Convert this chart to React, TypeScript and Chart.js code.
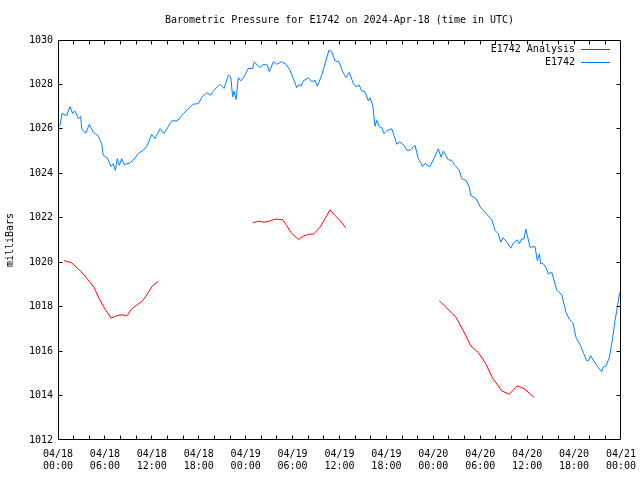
import React, { useEffect, useRef } from "react";
import { Chart, registerables } from "chart.js";

Chart.register(...registerables);

const FONT = "'DejaVu Sans Mono', monospace";

const titleText = "Barometric Pressure for E1742 on 2024-Apr-18 (time in UTC)";
const yAxisTitle = "milliBars";
const analysisLabel = "E1742 Analysis";
const observedLabel = "E1742";

// x axis: hours since 2024-04-18 00:00 UTC
const xTickDates = ["04/18", "04/18", "04/18", "04/18", "04/19", "04/19", "04/19", "04/19", "04/20", "04/20", "04/20", "04/20", "04/21"];
const xTickTimes = ["00:00", "06:00", "12:00", "18:00", "00:00", "06:00", "12:00", "18:00", "00:00", "06:00", "12:00", "18:00", "00:00"];

const observedHours = [
  0.13, 0.26, 0.51, 1.11, 1.53, 1.88, 2.17, 2.6, 2.9, 3.03, 3.54, 4.0, 4.51, 5.15, 5.59, 5.79, 6.31, 6.78, 7.07, 7.33,
  7.58, 7.84, 8.15, 8.44, 9.21, 9.85, 10.27, 10.91, 11.42, 11.98, 12.41, 13.05, 13.56, 14.54, 15.26, 16.03, 17.3, 17.94,
  18.51, 19.02, 19.53, 19.86, 20.72, 21.23, 21.78, 22.09, 22.34, 22.51, 22.77, 23.06, 23.37, 23.79, 24.34, 24.9, 25.07,
  25.83, 26.35, 26.77, 27.02, 27.54, 27.97, 28.61, 29.16, 29.67, 30.09, 30.53, 30.86, 31.08, 31.37, 32.01, 32.45, 32.87,
  33.16, 33.73, 34.28, 34.66, 35.0, 35.43, 35.94, 36.41, 36.83, 37.26, 37.77, 38.11, 38.53, 38.84, 39.26, 39.68, 39.9,
  40.25, 40.54, 40.76, 41.09, 41.4, 41.69, 42.04, 42.68, 42.97, 43.32, 43.74, 44.25, 44.6, 45.02, 45.66, 46.08, 46.64,
  46.94, 47.23, 47.58, 48.21, 48.64, 48.98, 49.28, 49.92, 50.35, 50.77, 51.32, 51.63, 52.18, 52.6, 52.78, 53.46, 54.06,
  54.61, 55.47, 55.89, 56.31, 56.62, 56.87, 57.46, 57.9, 58.23, 58.74, 59.0, 59.3, 59.6, 59.82, 60.02, 60.37, 61.0,
  61.3, 61.56, 61.73, 61.99, 62.41, 62.71, 63.14, 63.78, 64.42, 64.97, 65.39, 65.83, 66.25, 66.76, 67.18, 67.62, 67.82,
  68.13, 68.55, 69.1, 69.53, 69.74, 70.08, 70.51, 70.94, 71.24, 71.53, 71.79, 72.0,
];
const observedPressure = [
  1026.1, 1026.16, 1026.69, 1026.6, 1027.0, 1026.7, 1026.8, 1026.46, 1026.57, 1026.0, 1025.8, 1026.2, 1025.86, 1025.67,
  1025.34, 1024.81, 1024.69, 1024.31, 1024.43, 1024.13, 1024.66, 1024.36, 1024.66, 1024.4, 1024.46, 1024.69, 1024.89,
  1025.04, 1025.26, 1025.76, 1025.56, 1026.01, 1025.79, 1026.36, 1026.36, 1026.69, 1027.11, 1027.14, 1027.47, 1027.62,
  1027.52, 1027.71, 1028.01, 1027.82, 1028.42, 1028.34, 1027.44, 1027.7, 1027.32, 1028.31, 1028.16, 1028.34, 1028.72,
  1028.72, 1029.02, 1028.76, 1028.91, 1028.87, 1028.57, 1029.02, 1028.91, 1029.02, 1028.91, 1028.64, 1028.27, 1027.86,
  1028.01, 1027.92, 1028.16, 1028.3, 1028.12, 1028.19, 1027.92, 1028.42, 1029.09, 1029.55, 1029.47, 1029.06, 1029.02,
  1028.57, 1028.31, 1028.54, 1028.04, 1027.89, 1027.97, 1027.71, 1027.67, 1027.26, 1027.4, 1027.07, 1026.12, 1026.39,
  1026.09, 1026.06, 1025.79, 1025.91, 1026.01, 1025.71, 1025.31, 1025.41, 1025.26, 1025.04, 1025.04, 1025.26, 1024.66,
  1024.31, 1024.46, 1024.36, 1024.31, 1024.77, 1025.11, 1024.73, 1025.0, 1024.61, 1024.58, 1024.36, 1024.13, 1023.76,
  1023.68, 1023.38, 1023.0, 1022.86, 1022.45, 1022.25, 1021.91, 1021.43, 1021.28, 1020.9, 1021.1, 1020.9, 1020.63,
  1020.86, 1021.01, 1020.83, 1021.05, 1021.05, 1021.5, 1021.2, 1020.67, 1020.71, 1020.07, 1020.38, 1019.93, 1019.95,
  1019.77, 1019.47, 1019.55, 1018.75, 1018.54, 1017.74, 1017.44, 1017.29, 1016.61, 1016.29, 1015.94, 1015.56, 1015.56,
  1015.79, 1015.53, 1015.26, 1015.08, 1015.29, 1015.34, 1015.71, 1016.61, 1017.37, 1017.97, 1018.57, 1018.7,
];

// analysis series; null marks a break in the line
const analysisHours = [
  0.77, 1.75, 2.6, 3.24, 4.0, 4.6, 5.28, 6.01, 6.78, 7.51, 8.15, 8.79, 9.43, 10.14, 10.83, 11.55, 12.11, 12.83,
  18.0,
  24.9, 25.62, 26.35, 27.02, 27.75, 28.74, 29.25, 29.76, 30.73, 31.37, 32.01, 32.74, 33.51, 34.15, 34.79, 35.43, 36.07, 36.79,
  42.0,
  48.76, 49.71, 50.9, 51.83, 52.78, 53.75, 54.61, 55.59, 56.75, 57.72, 58.74, 59.73, 60.88,
];
const analysisPressure = [
  1020.07, 1019.97, 1019.7, 1019.47, 1019.14, 1018.87, 1018.35, 1017.9, 1017.49, 1017.59, 1017.64, 1017.58, 1017.9,
  1018.09, 1018.27, 1018.64, 1018.95, 1019.14,
  null,
  1021.77, 1021.85, 1021.8, 1021.85, 1021.94, 1021.91, 1021.65, 1021.35, 1021.02, 1021.17, 1021.25, 1021.28, 1021.58,
  1021.96, 1022.36, 1022.1, 1021.88, 1021.55,
  null,
  1018.27, 1017.94, 1017.52, 1016.92, 1016.24, 1015.94, 1015.49, 1014.78, 1014.21, 1014.06, 1014.44, 1014.29, 1013.91,
];

const X_MIN = 0;
const X_MAX = 72;
const Y_MIN = 1012;
const Y_MAX = 1030;

const ANALYSIS_COLOR = "#ff0000";
const OBSERVED_COLOR = "#0080ff";

const framePlugin = {
  id: "gnuplotFrame",
  afterDatasetsDraw(chart: any) {
    const { ctx, chartArea, scales } = chart;
    const { left, right, top, bottom } = chartArea;
    const xs = scales.x;
    const ys = scales.y;
    ctx.save();
    ctx.strokeStyle = "#000";
    ctx.lineWidth = 1;
    const L = Math.floor(left) + 0.5;
    const R = Math.floor(right) - 0.5;
    const T = Math.floor(top) + 0.5;
    const B = Math.floor(bottom) - 0.5;
    ctx.beginPath();
    ctx.rect(L, T, R - L, B - T);
    // x ticks (every 2 h) inward on bottom and top
    for (let h = X_MIN + 2; h < X_MAX; h += 2) {
      const px = Math.floor(xs.getPixelForValue(h)) + 0.5;
      ctx.moveTo(px, B);
      ctx.lineTo(px, B - 4);
      ctx.moveTo(px, T);
      ctx.lineTo(px, T + 4);
    }
    // y ticks (every 2 mb) inward on left and right
    for (let v = Y_MIN + 2; v < Y_MAX; v += 2) {
      const py = Math.floor(ys.getPixelForValue(v)) + 0.5;
      ctx.moveTo(L, py);
      ctx.lineTo(L + 4, py);
      ctx.moveTo(R, py);
      ctx.lineTo(R - 4, py);
    }
    ctx.stroke();

    ctx.font = `10px ${FONT}`;
    ctx.fillStyle = "#000";

    // title, centred over the plot area
    ctx.textAlign = "center";
    ctx.textBaseline = "middle";
    ctx.fillText(titleText, (left + right) / 2, 20);

    // legend (text right-aligned, sample line to its right)
    const items = [
      { label: analysisLabel, color: ANALYSIS_COLOR },
      { label: observedLabel, color: OBSERVED_COLOR },
    ];
    ctx.textAlign = "right";
    items.forEach((it, i) => {
      const y = Math.floor(top) + 9 + i * 13;
      ctx.fillStyle = "#000";
      ctx.fillText(it.label, right - 46, y);
      ctx.strokeStyle = it.color;
      ctx.beginPath();
      ctx.moveTo(right - 40, y + 0.5);
      ctx.lineTo(right - 11, y + 0.5);
      ctx.stroke();
    });
    ctx.restore();
  },
};

export default function App() {
  const canvasRef = useRef<HTMLCanvasElement | null>(null);

  useEffect(() => {
    const canvas = canvasRef.current;
    if (!canvas) return;
    const analysisData = analysisHours.map((h, i) => ({ x: h, y: analysisPressure[i] }));
    const observedData = observedHours.map((h, i) => ({ x: h, y: observedPressure[i] }));

    const chart = new Chart(canvas, {
      type: "line",
      data: {
        datasets: [
          {
            label: analysisLabel,
            data: analysisData,
            borderColor: ANALYSIS_COLOR,
            backgroundColor: ANALYSIS_COLOR,
            borderWidth: 1,
            pointRadius: 0,
            tension: 0,
            spanGaps: false,
          },
          {
            label: observedLabel,
            data: observedData,
            borderColor: OBSERVED_COLOR,
            backgroundColor: OBSERVED_COLOR,
            borderWidth: 1,
            pointRadius: 0,
            tension: 0,
          },
        ],
      },
      options: {
        animation: false,
        responsive: false,
        maintainAspectRatio: false,
        devicePixelRatio: 1,
        layout: { padding: { left: 0, right: 19, top: 40, bottom: 0 } },
        plugins: {
          legend: { display: false },
          tooltip: { enabled: false },
          title: { display: false },
        },
        scales: {
          x: {
            type: "linear",
            min: X_MIN,
            max: X_MAX,
            grid: { display: false, drawTicks: false },
            border: { display: false },
            ticks: {
              stepSize: 6,
              autoSkip: false,
              maxRotation: 0,
              minRotation: 0,
              padding: 8,
              color: "#000",
              font: { family: FONT, size: 10, lineHeight: 1.25 },
              callback: (value: any) => {
                const idx = Math.round(Number(value) / 6);
                return [xTickDates[idx], xTickTimes[idx]];
              },
            },
            afterFit: (scale: any) => {
              scale.height = 40;
              scale.paddingLeft = 0;
              scale.paddingRight = 0;
            },
          },
          y: {
            type: "linear",
            min: Y_MIN,
            max: Y_MAX,
            grid: { display: false, drawTicks: false },
            border: { display: false },
            title: {
              display: true,
              text: yAxisTitle,
              color: "#000",
              font: { family: FONT, size: 10, lineHeight: 1.2 },
              padding: { top: 4, bottom: 0 },
            },
            ticks: {
              stepSize: 2,
              padding: 5,
              color: "#000",
              font: { family: FONT, size: 10 },
              callback: (value: any) => String(value),
            },
            afterFit: (scale: any) => {
              scale.width = 58;
              scale.paddingTop = 0;
              scale.paddingBottom = 0;
            },
          },
        },
      },
      plugins: [framePlugin],
    });

    return () => {
      chart.destroy();
    };
  }, []);

  return (
    <div style={{ position: "fixed", left: 0, top: 0, width: 640, height: 480, background: "#fff" }}>
      <canvas ref={canvasRef} width={640} height={480} style={{ width: 640, height: 480 }} />
    </div>
  );
}
